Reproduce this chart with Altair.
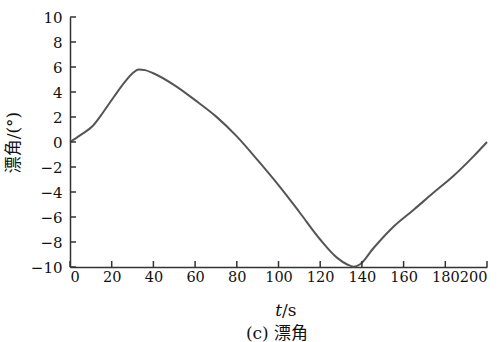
import altair as alt
import pandas as pd

t_vals = [0, 5, 11, 16, 21, 27, 30, 33, 36, 40, 50, 60, 70, 80, 90, 100, 110, 120, 128, 133, 136, 139, 145.5, 155, 165, 174, 184, 193.5, 200]
drift = [0, 0.55, 1.3, 2.4, 3.6, 4.95, 5.5, 5.8, 5.75, 5.5, 4.55, 3.35, 2.05, 0.45, -1.45, -3.45, -5.6, -7.8, -9.25, -9.8, -9.97, -9.8, -8.5, -6.8, -5.4, -4.1, -2.7, -1.15, 0]
x_ticks = [0, 20, 40, 60, 80, 100, 120, 140, 160, 180, 200]
y_ticks = [-10, -8, -6, -4, -2, 0, 2, 4, 6, 8, 10]

W, H = 417, 250
AX = "#333333"
FONT = "DejaVu Serif, Noto Sans CJK SC"

df = pd.DataFrame({"t": t_vals, "v": drift})
xt = pd.DataFrame({"t": x_ticks, "v": [-10] * len(x_ticks)})
yt = pd.DataFrame({"t": [0] * len(y_ticks), "v": y_ticks})

xs = alt.Scale(domain=[0, 200], nice=False)
ys = alt.Scale(domain=[-10, 10], nice=False)

xaxis = alt.Axis(values=x_ticks, ticks=False, labelPadding=3,
                 labelFont=FONT, labelFontSize=14.5, labelColor="#111",
                 labelOverlap=False, domainColor=AX, domainWidth=1.5, grid=False, title=None)
yaxis = alt.Axis(values=y_ticks, ticks=False, labelPadding=8,
                 labelFont=FONT, labelFontSize=15, labelColor="#111",
                 labelOverlap=False, domainColor=AX, domainWidth=1.5, grid=False,
                 title="漂角/(°)", titleFont=FONT, titleFontSize=17,
                 titleFontWeight="normal", titleColor="#111", titlePadding=8)

line = alt.Chart(df).mark_line(color="#555555", strokeWidth=2, interpolate="monotone").encode(
    x=alt.X("t:Q", scale=xs, axis=xaxis),
    y=alt.Y("v:Q", scale=ys, axis=yaxis),
)

xtick = alt.Chart(xt).mark_point(shape="M0,0L0,-1", size=144, color=AX, strokeWidth=1.5, filled=False, opacity=1).encode(
    x=alt.X("t:Q", scale=xs, axis=None), y=alt.Y("v:Q", scale=ys, axis=None))
ytick = alt.Chart(yt).mark_point(shape="M0,0L1,0", size=144, color=AX, strokeWidth=1.5, filled=False, opacity=1).encode(
    x=alt.X("t:Q", scale=xs, axis=None), y=alt.Y("v:Q", scale=ys, axis=None))

one = pd.DataFrame({"a": [1]})
t_it = alt.Chart(one).mark_text(text="t", font=FONT, fontSize=17, fontStyle="italic", align="right",
                                baseline="alphabetic", color="#111").encode(x=alt.value(212), y=alt.value(299))
t_s = alt.Chart(one).mark_text(text="/s", font=FONT, fontSize=17, align="left",
                               baseline="alphabetic", color="#111").encode(x=alt.value(212), y=alt.value(299))
cap = alt.Chart(one).mark_text(text="(c) 漂角", font=FONT, fontSize=17, align="center",
                               baseline="alphabetic", color="#111").encode(x=alt.value(207), y=alt.value(322))

chart = alt.layer(line, xtick, ytick, t_it, t_s, cap).resolve_axis(x="independent", y="independent").properties(
    width=W, height=H,
    autosize=alt.AutoSizeParams(type="none"),
    padding={"left": 70, "top": 17, "right": 14, "bottom": 75},
    background="white",
).configure_view(stroke=None)

chart.save("out.html", embed_options={"renderer": "svg", "actions": False})
